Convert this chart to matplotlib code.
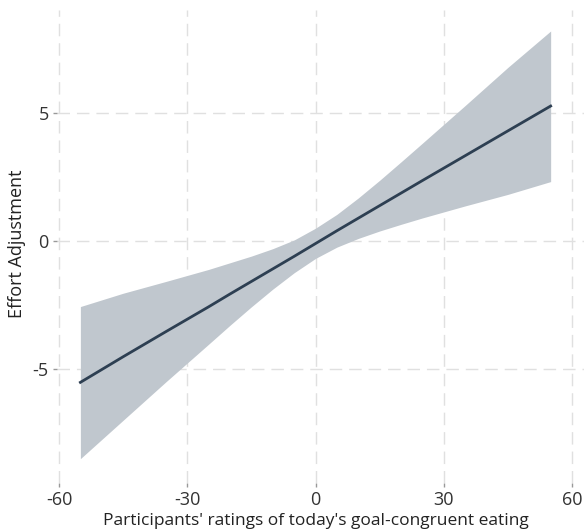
import matplotlib
matplotlib.use("Agg")
import matplotlib.pyplot as plt

plt.rcParams["axes.unicode_minus"] = False

# Values
x_vals = [-55, -45, -35, -25, -20, -15, -10, -5, 0, 5, 10, 15, 20, 25, 35, 45, 55]
fit = [-5.52, -4.52, -3.54, -2.57, -2.07, -1.58, -1.09, -0.60, -0.10, 0.40, 0.89, 1.38, 1.87, 2.36, 3.33, 4.30, 5.27]
upper = [-2.56, -2.04, -1.58, -1.11, -0.85, -0.59, -0.30, 0.04, 0.50, 1.04, 1.68, 2.37, 3.09, 3.82, 5.29, 6.78, 8.20]
lower = [-8.50, -7.00, -5.50, -4.03, -3.29, -2.57, -1.88, -1.24, -0.68, -0.24, 0.10, 0.39, 0.65, 0.90, 1.37, 1.82, 2.32]
x_ticks = [-60, -30, 0, 30, 60]
y_ticks = [-5, 0, 5]

fig = plt.figure(figsize=(5.84, 5.31), dpi=100)
ax = fig.add_axes([57 / 584, 48 / 531, 1 - 57 / 584, (483 - 10) / 531])

ax.fill_between(x_vals, lower, upper, color="#c0c7ce", linewidth=0, zorder=2)
ax.plot(x_vals, fit, color="#2d3f52", linewidth=2.0, zorder=3)

ax.set_xlim(-60.47, 62.8)
ax.set_ylim(-9.45, 9.02)
ax.set_xticks(x_ticks)
ax.set_yticks(y_ticks)

for s in ax.spines.values():
    s.set_visible(False)

ax.grid(True, color="#e0e0e0", linestyle=(0, (9, 5)), linewidth=1.0, zorder=0)
ax.set_axisbelow(True)
ax.tick_params(axis="both", length=3, width=1, color="#999999",
               labelsize=13, labelcolor="#333333", pad=3)
for lab in ax.get_xticklabels() + ax.get_yticklabels():
    lab.set_family("Open Sans")

ax.set_xlabel("Participants' ratings of today's goal-congruent eating",
              family="Open Sans", fontsize=12.5, color="#222222")
ax.xaxis.set_label_coords((316 - 57) / 527, -0.064)
ax.set_ylabel("Effort Adjustment", family="Open Sans", fontsize=13,
              color="#222222")
ax.yaxis.set_label_coords(-0.058, (483 - 244) / 473)

fig.savefig("out.png", dpi=100)
